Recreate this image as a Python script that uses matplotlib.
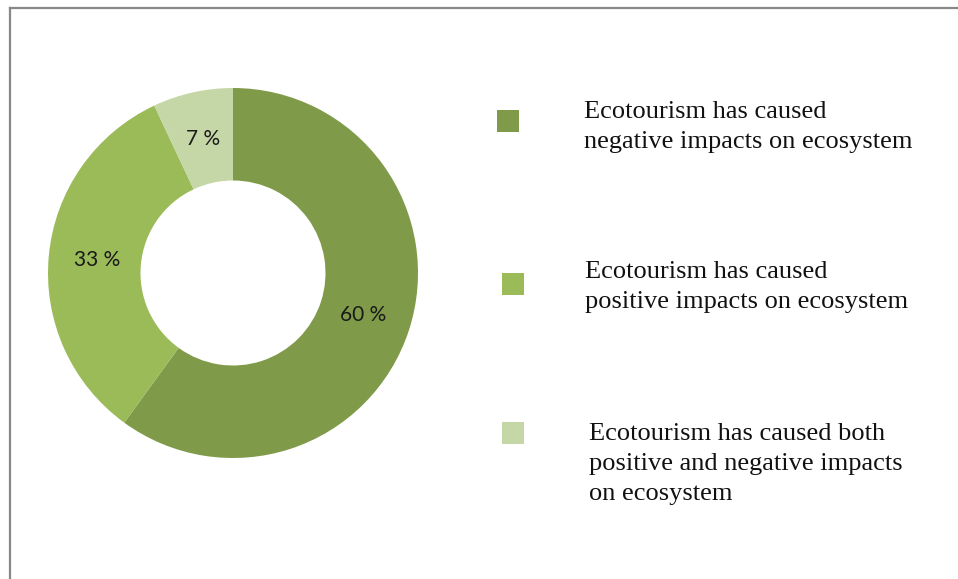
import matplotlib
matplotlib.use('Agg')
import matplotlib.pyplot as plt
from matplotlib.patches import Rectangle
from matplotlib.lines import Line2D

# data
labels = ['Ecotourism has caused\nnegative impacts on ecosystem',
          'Ecotourism has caused\npositive impacts on ecosystem',
          'Ecotourism has caused both\npositive and negative impacts\non ecosystem']
values = [60, 33, 7]
colors = ['#7F9B49', '#9BBB59', '#C5D6A7']

W, H = 958, 579
fig = plt.figure(figsize=(W/100, H/100), dpi=100)

# donut, centre (233,273) px, radius 185 px
cx, cy, r = 233, 273, 185
ax = fig.add_axes([(cx-r)/W, (H-cy-r)/H, 2*r/W, 2*r/H])
wedges, txts, pcts = ax.pie(values, colors=colors, startangle=90, counterclock=False,
                            radius=1, wedgeprops=dict(width=0.5, linewidth=0),
                            autopct=lambda p: '%d %%' % round(p), pctdistance=0.74,
                            textprops=dict(fontsize=15, family='Lato', color='#1a1a1a'))
ax.set_xlim(-1, 1)
ax.set_ylim(-1, 1)
ax.set_aspect('equal')
ax.axis('off')

# legend drawn by hand (entries are not aligned in the original)
box_pos = [(497, 110), (502, 273), (502, 422)]
txt_pos = [(584, 101), (585, 261), (589, 423)]
for (bx, by), (tx, ty), lab, c in zip(box_pos, txt_pos, labels, colors):
    fig.add_artist(Rectangle((bx/W, 1 - (by+22)/H), 22/W, 22/H, transform=fig.transFigure,
                             facecolor=c, edgecolor='none'))
    fig.text(tx/W, 1 - ty/H, lab, ha='left', va='top', fontsize=19,
             family='Liberation Serif', color='#111111', linespacing=1.46)

# frame (only top and left edges visible)
fig.add_artist(Line2D([9.5/W, 9.5/W], [0, 1 - 8/H], color='#888888', lw=1.6))
fig.add_artist(Line2D([9.5/W, 1], [1 - 8/H, 1 - 8/H], color='#888888', lw=1.6))

fig.savefig('out.png', dpi=100)
